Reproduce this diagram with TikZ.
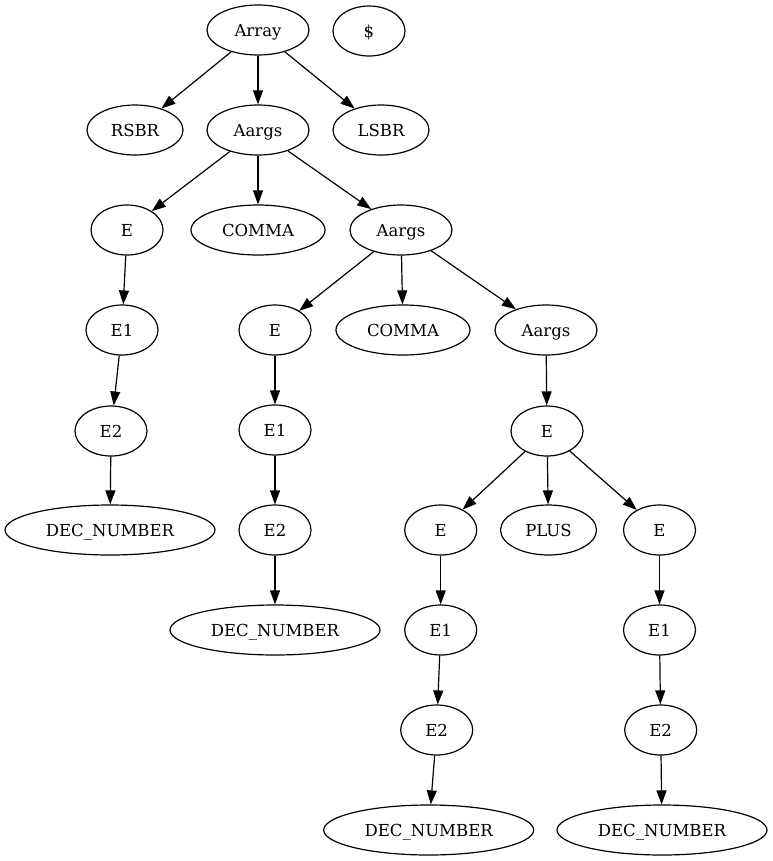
\documentclass[tikz,border=0pt]{standalone}
\usepackage{fontspec}
\setmainfont{DejaVu Serif}
\usetikzlibrary{shapes.geometric,arrows.meta}
\tikzset{
  nd/.style={draw, ellipse, line width=0.9pt, inner sep=0pt, minimum height=37.5pt, minimum width=54pt, text height=9pt, text depth=0pt, font=\fontsize{12.4}{14}\selectfont},
  w96/.style={minimum width=72pt},
  w102/.style={minimum width=76.5pt},
  w134/.style={minimum width=100.5pt},
  w210/.style={minimum width=157.5pt},
  edge/.style={line width=0.9pt, -{Triangle[length=10.5pt, width=7.5pt]}}
}
\begin{document}
\begin{tikzpicture}[x=0.75pt, y=-0.75pt]
\useasboundingbox (0,0) rectangle (772,861);
\node[nd,w102] (array) at (258,30) {Array};
\node[nd] (dollar) at (369,31) {\$};
\node[nd,w96] (rsbr) at (135,130) {RSBR};
\node[nd,w102] (aargs1) at (258,130) {Aargs};
\node[nd,w96] (lsbr) at (381,130) {LSBR};
\node[nd] (ea) at (127,230) {E};
\node[nd,w134] (comma1) at (258,230) {COMMA};
\node[nd,w102] (aargs2) at (401,230) {Aargs};
\node[nd] (e1a) at (122,330) {E1};
\node[nd] (eb) at (275,330) {E};
\node[nd,w134] (comma2) at (403,330) {COMMA};
\node[nd,w102] (aargs3) at (546,330) {Aargs};
\node[nd] (e2a) at (111,431) {E2};
\node[nd] (e1b) at (275,430) {E1};
\node[nd] (ec) at (547,431) {E};
\node[nd,w210] (dec1) at (110,530) {DEC\_NUMBER};
\node[nd] (e2b) at (275,530) {E2};
\node[nd] (ed) at (440.7,530) {E};
\node[nd,w96] (plus) at (548.5,530) {PLUS};
\node[nd] (ee) at (659.5,530) {E};
\node[nd,w210] (dec2) at (275,630) {DEC\_NUMBER};
\node[nd] (e1d) at (440.7,630) {E1};
\node[nd] (e1e) at (659.5,630) {E1};
\node[nd] (e2d) at (436.7,730) {E2};
\node[nd] (e2e) at (660.7,730) {E2};
\node[nd,w210] (dec3) at (428.7,830) {DEC\_NUMBER};
\node[nd,w210] (dec4) at (662,830) {DEC\_NUMBER};
\draw[edge] (array) -- (rsbr);
\draw[edge] (array) -- (aargs1);
\draw[edge] (array) -- (lsbr);
\draw[edge] (aargs1) -- (ea);
\draw[edge] (aargs1) -- (comma1);
\draw[edge] (aargs1) -- (aargs2);
\draw[edge] (ea) -- (e1a);
\draw[edge] (e1a) -- (e2a);
\draw[edge] (e2a) -- (dec1);
\draw[edge] (aargs2) -- (eb);
\draw[edge] (aargs2) -- (comma2);
\draw[edge] (aargs2) -- (aargs3);
\draw[edge] (eb) -- (e1b);
\draw[edge] (e1b) -- (e2b);
\draw[edge] (e2b) -- (dec2);
\draw[edge] (aargs3) -- (ec);
\draw[edge] (ec) -- (ed);
\draw[edge] (ec) -- (plus);
\draw[edge] (ec) -- (ee);
\draw[edge] (ed) -- (e1d);
\draw[edge] (e1d) -- (e2d);
\draw[edge] (e2d) -- (dec3);
\draw[edge] (ee) -- (e1e);
\draw[edge] (e1e) -- (e2e);
\draw[edge] (e2e) -- (dec4);
\end{tikzpicture}
\end{document}
